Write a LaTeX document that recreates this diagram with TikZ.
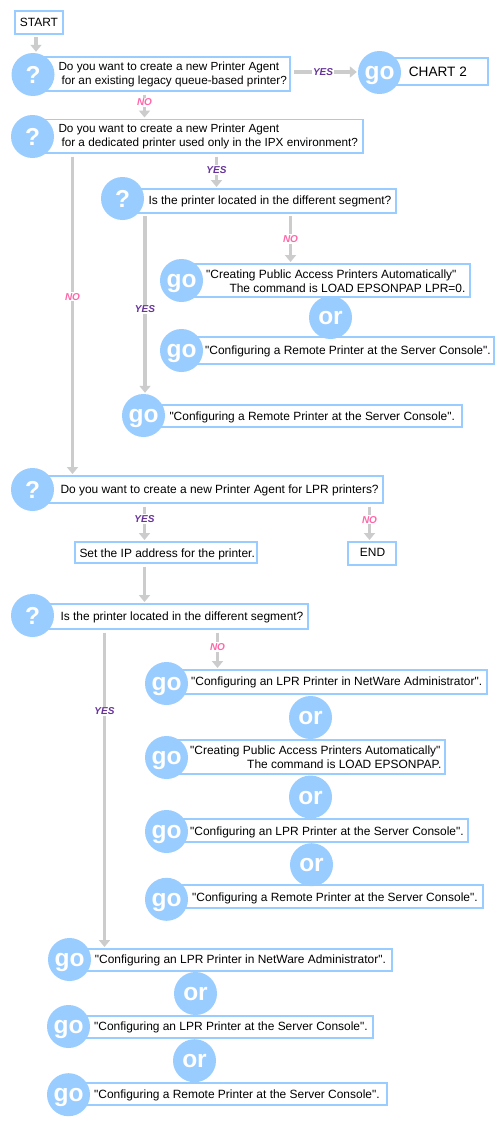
\documentclass[tikz,border=0pt]{standalone}
\usepackage{fontspec}
\setmainfont[Ligatures=TeXOff]{Liberation Sans}
\usetikzlibrary{arrows.meta}
\definecolor{sky}{HTML}{99CCFF}
\definecolor{flowgrey}{HTML}{CCCCCC}
\definecolor{yescol}{HTML}{663399}
\definecolor{nocol}{HTML}{FF66A8}
\tikzset{
  flowbox/.style={draw=sky,line width=1.8pt,fill=white,inner sep=0pt,outer sep=.9pt},
  disc/.style={circle,fill=sky,text=white,inner sep=0pt,minimum size=43pt,font=\fontsize{24.5}{25}\selectfont\bfseries},
  txt/.style={anchor=west,inner sep=0pt,align=left,yshift=-.5pt,font=\fontsize{11.95}{14}\selectfont},
  txtb/.style={anchor=west,inner sep=0pt,align=left,yshift=-.5pt,font=\fontsize{11.75}{14}\selectfont},
  flow/.style={draw=flowgrey,line width=3.3pt,-{Triangle[width=11pt,length=7pt]},shorten <=2.5pt,shorten >=1pt},
  yeslab/.style={fill=white,inner sep=1pt,text=yescol,font=\fontsize{10}{10}\selectfont\bfseries\itshape},
  nolab/.style={fill=white,inner sep=1pt,text=nocol,font=\fontsize{10}{10}\selectfont\bfseries\itshape}
}
\newcommand{\qbox}[5]{\node[flowbox,minimum width={(#4-#2-1.8)*1pt},minimum height={(#5-#3-1.8)*1pt}] (#1) at ({(#2+#4)/2},{(#3+#5)/2}) {};}
\newcommand{\dword}[1]{\rule[-4.4pt]{0pt}{22.8pt}\smash{#1}}
\begin{document}
\begin{tikzpicture}[x=1pt,y=-1pt]
\useasboundingbox[fill=white] (0,0) rectangle (500,1124);
% boxes
\qbox{start}{14}{10}{64}{35}
\qbox{q1}{33}{56}{291}{92}
\qbox{chart}{380}{57}{489}{86}
\qbox{q2}{33}{118.5}{364}{154}
\qbox{q3}{122}{188}{397}{213.5}
\qbox{ga}{181}{263}{471}{298}
\qbox{gb}{181}{336}{495}{365}
\qbox{gc}{143}{404}{463}{428}
\qbox{q4}{33}{475}{384}{504}
\qbox{ip}{74}{541}{258}{564}
\qbox{endb}{347}{541}{397}{566}
\qbox{q5}{33}{603}{309}{630}
\qbox{gd}{166}{669}{488}{695}
\qbox{ge}{166}{739}{446}{775}
\qbox{gf}{166}{818}{469}{843}
\qbox{gg}{166}{884}{484}{909}
\qbox{gh}{69}{948}{393}{972}
\qbox{gi}{68}{1015}{374}{1039}
\qbox{gj}{68}{1082}{388}{1106}
% discs
\node[disc] (cq1) at (33,74.5) {?};
\node[disc] (cchart) at (379.5,72.5) {\dword{go}};
\node[disc] (cq2) at (32.5,136.5) {?};
\node[disc] (cq3) at (122.5,198.5) {?};
\node[disc] (cga) at (181.5,280.5) {\dword{go}};
\node[disc] (ora) at (330.5,317.5) {\dword{or}};
\node[disc] (cgb) at (181.5,350.5) {\dword{go}};
\node[disc] (cgc) at (143.5,415.5) {\dword{go}};
\node[disc] (cq4) at (32.5,489.5) {?};
\node[disc] (cq5) at (32.5,615.5) {?};
\node[disc] (cgd) at (166.5,683.5) {\dword{go}};
\node[disc] (orb) at (310.5,717.5) {\dword{or}};
\node[disc] (cge) at (166.5,757.5) {\dword{go}};
\node[disc] (orc) at (310.5,797) {\dword{or}};
\node[disc] (cgf) at (166.5,831.5) {\dword{go}};
\node[disc] (ord) at (311.5,864.7) {\dword{or}};
\node[disc] (cgg) at (166.5,899.3) {\dword{go}};
\node[disc] (cgh) at (69.5,959.5) {\dword{go}};
\node[disc] (ore) at (195.5,993.5) {\dword{or}};
\node[disc] (cgi) at (68.5,1026.5) {\dword{go}};
\node[disc] (orf) at (194.5,1060.7) {\dword{or}};
\node[disc] (cgj) at (68.5,1094.7) {\dword{go}};
% texts
\node[txt] (tstart) at (19.7,22) {START};
\node[txtb] (tq1) at (58.3,73.5) {Do you want to create a new Printer Agent\\\hspace*{3pt}for an existing legacy queue-based printer?};
\node[txt,font=\fontsize{13.6}{14}\selectfont] (tchart) at (408.7,71) {CHART 2};
\node[txtb] (tq2) at (58.3,136) {Do you want to create a new Printer Agent\\\hspace*{3pt}for a dedicated printer used only in the IPX environment?};
\node[txt] (tq3) at (148.3,201) {Is the printer located in the different segment?};
\node[txt] (tga) at (206,280.7) {"Creating Public Access Printers Automatically"\\\hspace*{23.3pt}The command is LOAD EPSONPAP LPR=0.};
\node[txt] (tgb) at (205,351) {"Configuring a Remote Printer at the Server Console".};
\node[txt] (tgc) at (169.3,417) {"Configuring a Remote Printer at the Server Console".};
\node[txt] (tq4) at (60.3,490) {Do you want to create a new Printer Agent for LPR printers?};
\node[txt] (tip) at (79.3,554) {Set the IP address for the printer.};
\node[txt] (tend) at (359.7,552) {END};
\node[txt] (tq5) at (60.3,617) {Is the printer located in the different segment?};
\node[txt] (tgd) at (191,682) {"Configuring an LPR Printer in NetWare Administrator".};
\node[txt] (tge) at (190,756.7) {"Creating Public Access Printers Automatically"\\\hspace*{57pt}The command is LOAD EPSONPAP.};
\node[txt] (tgf) at (190,832) {"Configuring an LPR Printer at the Server Console".};
\node[txt] (tgg) at (192,898) {"Configuring a Remote Printer at the Server Console".};
\node[txt] (tgh) at (94.7,960) {"Configuring an LPR Printer in NetWare Administrator".};
\node[txt] (tgi) at (94,1027) {"Configuring an LPR Printer at the Server Console".};
\node[txt] (tgj) at (94,1095) {"Configuring a Remote Printer at the Server Console".};
% connector guide coordinates
\coordinate (xa) at (36,0);
\coordinate (xb) at (144.5,0);
\coordinate (xc) at (216.5,0);
\coordinate (xd) at (72.5,0);
\coordinate (xe) at (145,0);
\coordinate (xf) at (290.5,0);
\coordinate (xg) at (369.5,0);
\coordinate (xh) at (104.5,0);
\coordinate (xi) at (217.5,0);
\coordinate (ya) at (0,72);
% connectors
\draw[flow] (start.south -| xa) -- (cq1.north -| xa);
\draw[flow] (q1.east |- ya) -- node[yeslab,pos=.48]{YES} (cchart.west |- ya);
\draw[flow] (q1.south -| xb) -- node[nolab,pos=.38]{NO} (q2.north -| xb);
\draw[flow] (q2.south -| xc) -- node[yeslab,pos=.47]{YES} (q3.north -| xc);
\draw[flow] (q2.south -| xd) -- node[nolab,pos=.445]{NO} (q4.north -| xd);
\draw[flow] (q3.south -| xe) -- node[yeslab,pos=.53]{YES} (cgc.north -| xe);
\draw[flow] (q3.south -| xf) -- node[nolab,pos=.515]{NO} (ga.north -| xf);
\draw[flow] (q4.south -| xb) -- node[yeslab,pos=.405]{YES} (ip.north -| xb);
\draw[flow] (q4.south -| xg) -- node[nolab,pos=.43]{NO} (endb.north -| xg);
\draw[flow] (ip.south -| xb) -- (q5.north -| xb);
\draw[flow] (q5.south -| xh) -- node[yeslab,pos=.255]{YES} (gh.north -| xh);
\draw[flow] (q5.south -| xi) -- node[nolab,pos=.436]{NO} (gd.north -| xi);
\end{tikzpicture}
\end{document}
